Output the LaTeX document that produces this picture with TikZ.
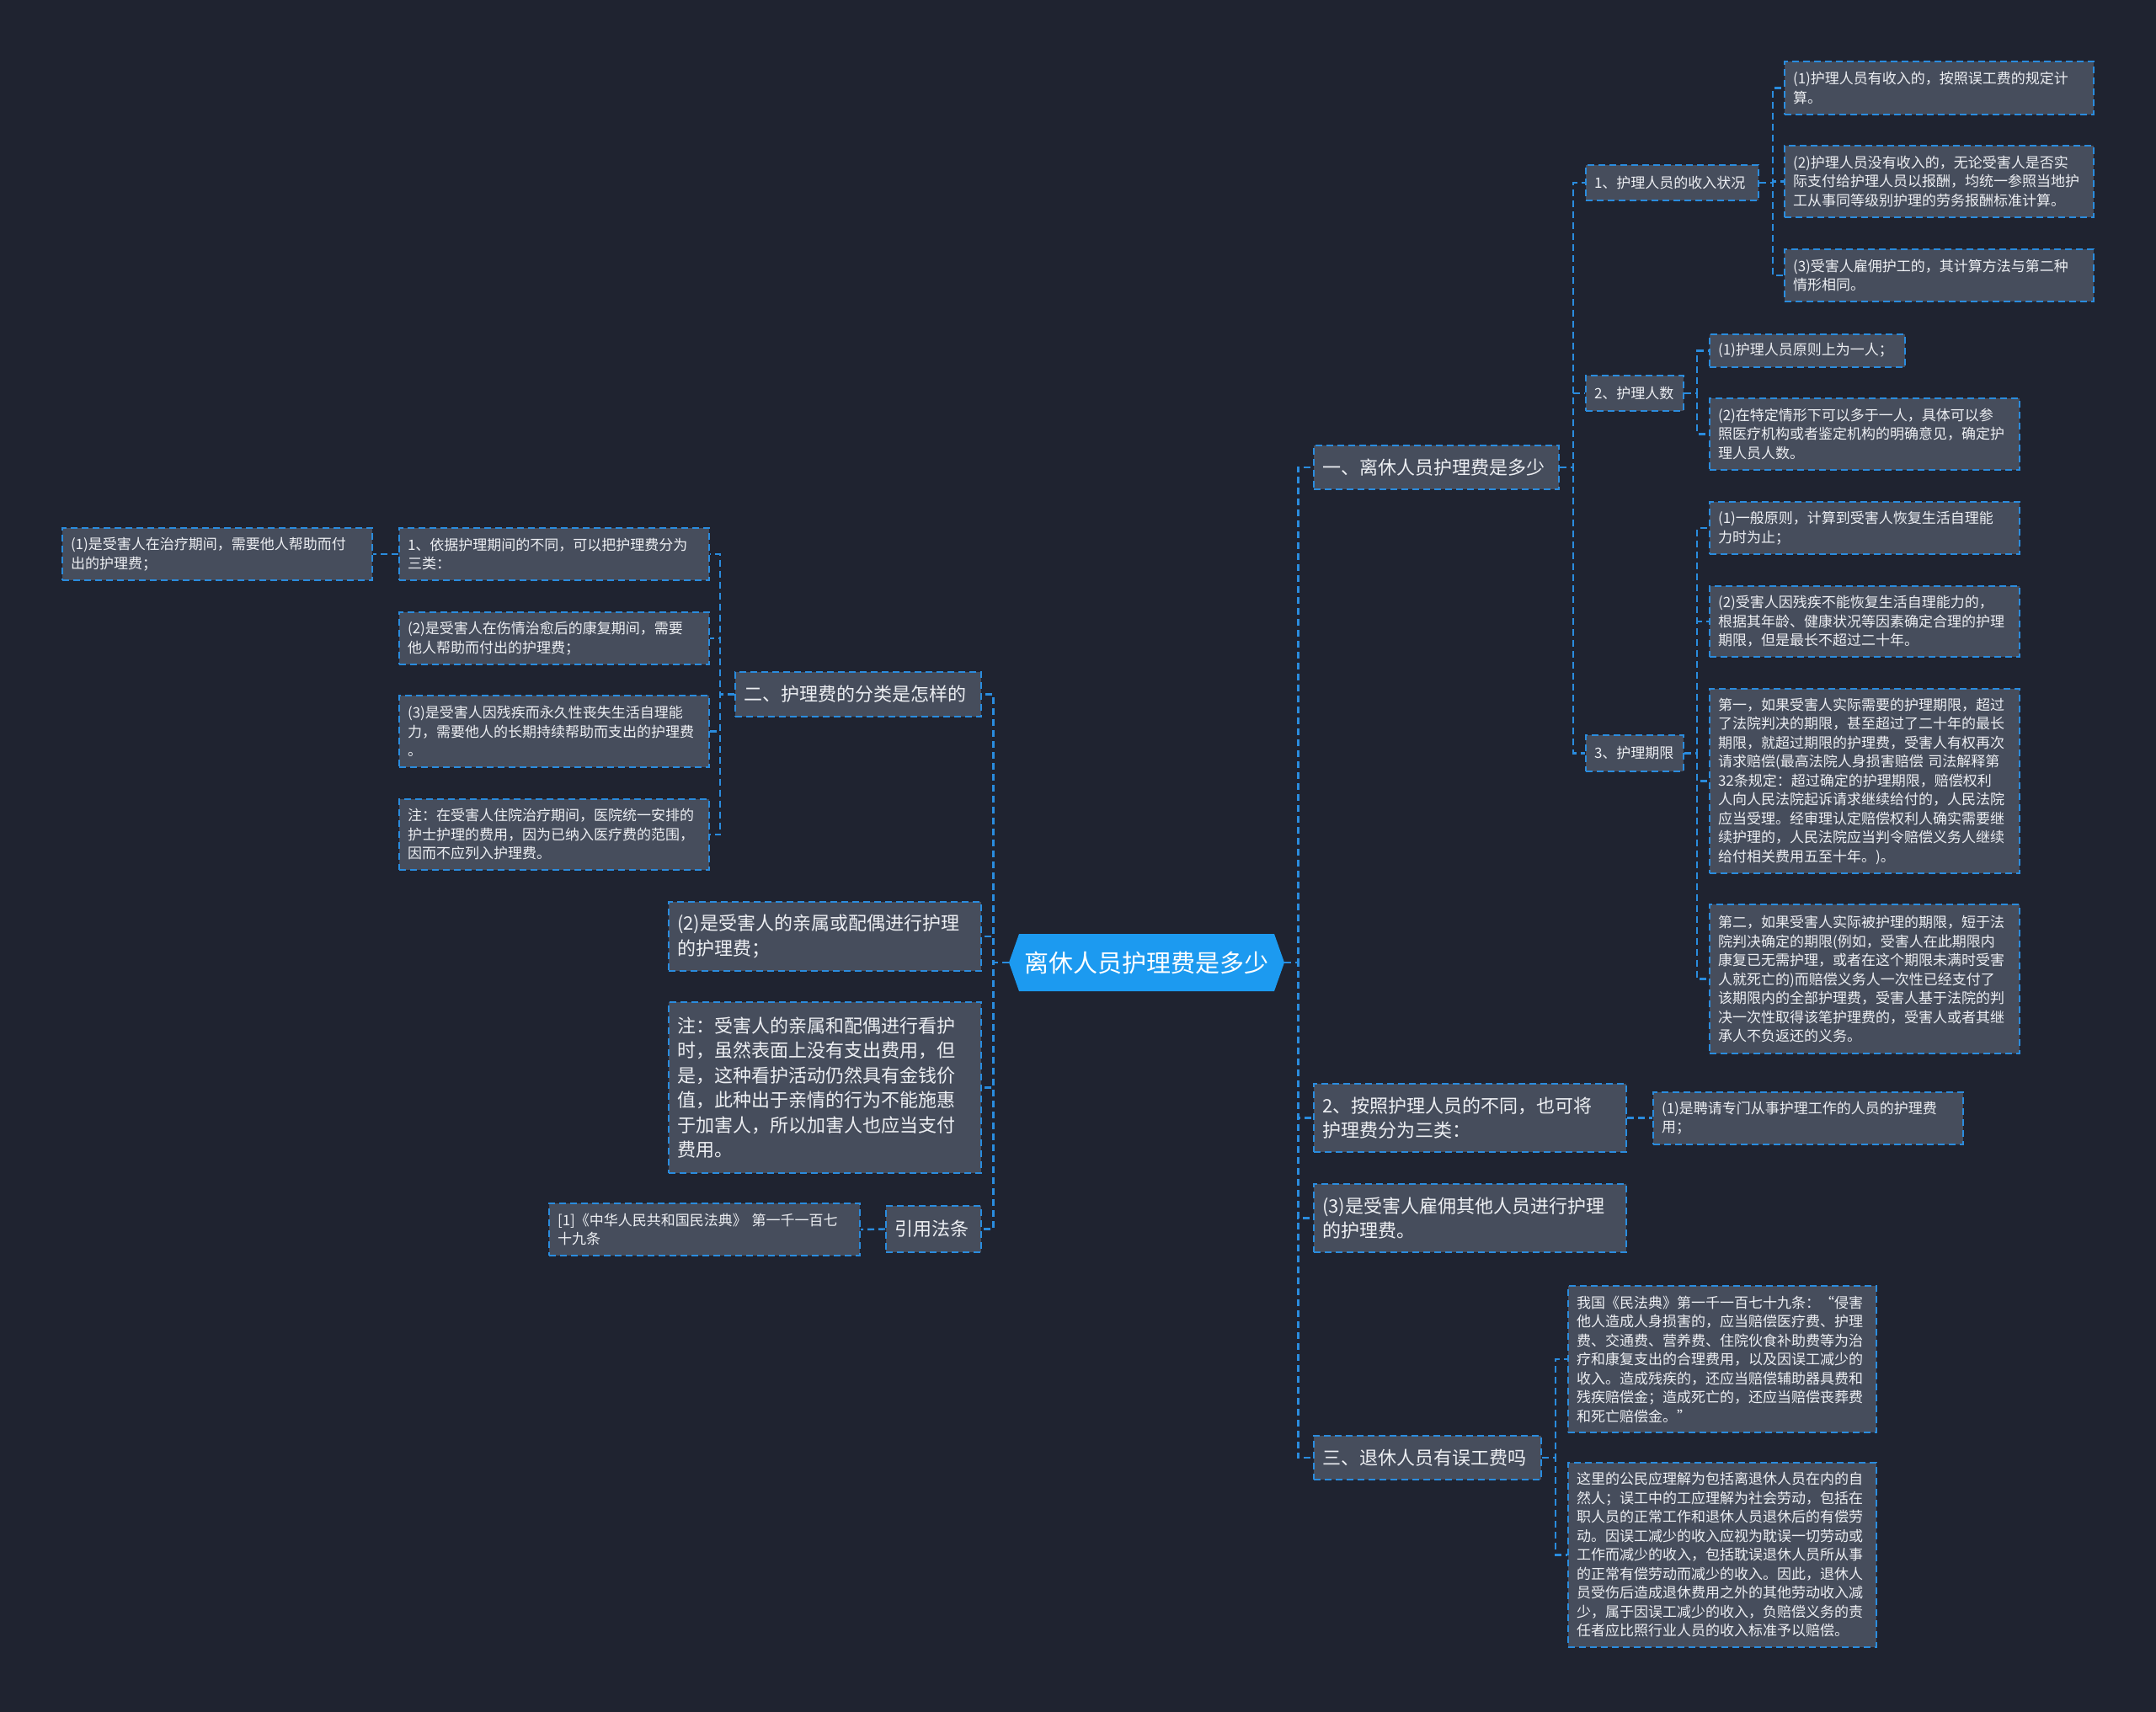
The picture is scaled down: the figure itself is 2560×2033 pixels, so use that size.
\documentclass[tikz,border=0pt]{standalone}
\usepackage{fontspec}
\setmainfont{Noto Sans CJK SC}
\definecolor{bgc}{RGB}{31,35,48}
\definecolor{nodef}{RGB}{70,77,92}
\definecolor{linec}{RGB}{42,140,222}
\definecolor{rootf}{RGB}{28,154,240}
\definecolor{txt}{RGB}{236,238,242}
\newcommand\smallfnt{\fontsize{8.5pt}{11.25pt}\selectfont}
\newcommand\bigfnt{\fontsize{11pt}{14.75pt}\selectfont}
\newcommand\rootfnt{\fontsize{14.5pt}{17pt}\selectfont}
\tikzset{
  boxbase/.style={draw=linec, line width=1pt, dash pattern=on 4pt off 2.5pt, fill=nodef, text=txt, anchor=west, align=left, inner xsep=5pt, inner ysep=0pt},
  sbox/.style={boxbase, font=\smallfnt},
  lbox/.style={boxbase, font=\bigfnt},
  conn/.style={draw=linec, line width=1.2pt, dash pattern=on 4pt off 2.5pt}
}
\begin{document}
\begin{tikzpicture}[x=0.5pt,y=-0.5pt]
\fill[bgc] (0,0) rectangle (2560,2033);
\useasboundingbox (0,0) rectangle (2560,2033);
% root
\fill[rootf] (1198,1143) -- (1210,1109) -- (1513,1109) -- (1525,1143) -- (1513,1177) -- (1210,1177) -- cycle;
\node[text=white, font=\rootfnt, minimum width=163.5pt, minimum height=34pt, inner sep=0pt] (root) at (1361.5,1143) {离休人员护理费是多少};
% right level 1
\node[lbox, text width=135.5pt, minimum height=26pt] (A) at (1559,555) {一、离休人员护理费是多少};
\node[lbox, text width=175.5pt, minimum height=40.5pt] (B) at (1559,1327.5) {2、按照护理人员的不同，也可将\\护理费分为三类：};
\node[lbox, text width=175.5pt, minimum height=40.5pt] (C) at (1559,1446.5) {(3)是受害人雇佣其他人员进行护理\\的护理费。};
\node[lbox, text width=125pt, minimum height=26pt] (D) at (1559,1731) {三、退休人员有误工费吗};
% left level 1
\node[lbox, text width=136pt, minimum height=26.5pt] (E) at (872,824.5) {二、护理费的分类是怎样的};
\node[lbox, text width=175.5pt, minimum height=41pt] (F) at (793,1112) {(2)是受害人的亲属或配偶进行护理\\的护理费；};
\node[lbox, text width=175.5pt, minimum height=101.5pt] (G) at (793,1291.5) {注：受害人的亲属和配偶进行看护\\时，虽然表面上没有支出费用，但\\是，这种看护活动仍然具有金钱价\\值，此种出于亲情的行为不能施惠\\于加害人，所以加害人也应当支付\\费用。};
\node[lbox, text width=46.5pt, minimum height=27.5pt] (H) at (1051,1459.5) {引用法条};
% A children
\node[sbox, text width=92.5pt, minimum height=21pt] (A1) at (1882,217) {1、护理人员的收入状况};
\node[sbox, text width=173.5pt, minimum height=31.5pt] (A1a) at (2118,104.5) {(1)护理人员有收入的，按照误工费的规定计\\算。};
\node[sbox, text width=173.5pt, minimum height=42.5pt] (A1b) at (2118,215.5) {(2)护理人员没有收入的，无论受害人是否实\\际支付给护理人员以报酬，均统一参照当地护\\工从事同等级别护理的劳务报酬标准计算。};
\node[sbox, text width=173.5pt, minimum height=31pt] (A1c) at (2118,327) {(3)受害人雇佣护工的，其计算方法与第二种\\情形相同。};
\node[sbox, text width=48pt, minimum height=21pt] (A2) at (1882,467) {2、护理人数};
\node[sbox, text width=106pt, minimum height=19.5pt] (A2a) at (2029,416.5) {(1)护理人员原则上为一人；};
\node[sbox, text width=174pt, minimum height=42.5pt] (A2b) at (2029,515.5) {(2)在特定情形下可以多于一人，具体可以参\\照医疗机构或者鉴定机构的明确意见，确定护\\理人员人数。};
\node[sbox, text width=48pt, minimum height=21.5pt] (A3) at (1882,894.5) {3、护理期限};
\node[sbox, text width=174pt, minimum height=31pt] (A3a) at (2029,627) {(1)一般原则，计算到受害人恢复生活自理能\\力时为止；};
\node[sbox, text width=174pt, minimum height=42pt] (A3b) at (2029,738) {(2)受害人因残疾不能恢复生活自理能力的，\\根据其年龄、健康状况等因素确定合理的护理\\期限，但是最长不超过二十年。};
\node[sbox, text width=174pt, minimum height=109.5pt] (A3c) at (2029,927.5) {第一，如果受害人实际需要的护理期限，超过\\了法院判决的期限，甚至超过了二十年的最长\\期限，就超过期限的护理费，受害人有权再次\\请求赔偿(最高法院人身损害赔偿 司法解释第\\32条规定：超过确定的护理期限，赔偿权利\\人向人民法院起诉请求继续给付的，人民法院\\应当受理。经审理认定赔偿权利人确实需要继\\续护理的，人民法院应当判令赔偿义务人继续\\给付相关费用五至十年。)。};
\node[sbox, text width=174pt, minimum height=88.5pt] (A3d) at (2029,1162.5) {第二，如果受害人实际被护理的期限，短于法\\院判决确定的期限(例如，受害人在此期限内\\康复已无需护理，或者在这个期限未满时受害\\人就死亡的)而赔偿义务人一次性已经支付了\\该期限内的全部护理费，受害人基于法院的判\\决一次性取得该笔护理费的，受害人或者其继\\承人不负返还的义务。};
% B, D children
\node[sbox, text width=174pt, minimum height=31pt] (B1) at (1962,1327.5) {(1)是聘请专门从事护理工作的人员的护理费\\用；};
\node[sbox, text width=173pt, minimum height=87pt] (D1) at (1861,1614) {我国《民法典》第一千一百七十九条：“侵害\\他人造成人身损害的，应当赔偿医疗费、护理\\费、交通费、营养费、住院伙食补助费等为治\\疗和康复支出的合理费用，以及因误工减少的\\收入。造成残疾的，还应当赔偿辅助器具费和\\残疾赔偿金；造成死亡的，还应当赔偿丧葬费\\和死亡赔偿金。”};
\node[sbox, text width=173pt, minimum height=109.5pt] (D2) at (1861,1846.5) {这里的公民应理解为包括离退休人员在内的自\\然人；误工中的工应理解为社会劳动，包括在\\职人员的正常工作和退休人员退休后的有偿劳\\动。因误工减少的收入应视为耽误一切劳动或\\工作而减少的收入，包括耽误退休人员所从事\\的正常有偿劳动而减少的收入。因此，退休人\\员受伤后造成退休费用之外的其他劳动收入减\\少，属于因误工减少的收入，负赔偿义务的责\\任者应比照行业人员的收入标准予以赔偿。};
% E children
\node[sbox, text width=174pt, minimum height=31pt] (E1) at (473,658) {1、依据护理期间的不同，可以把护理费分为\\三类：};
\node[sbox, text width=174pt, minimum height=31pt] (E1a) at (73,658) {(1)是受害人在治疗期间，需要他人帮助而付\\出的护理费；};
\node[sbox, text width=174pt, minimum height=31pt] (E2) at (473,758) {(2)是受害人在伤情治愈后的康复期间，需要\\他人帮助而付出的护理费；};
\node[sbox, text width=174pt, minimum height=42.5pt] (E3) at (473,868.5) {(3)是受害人因残疾而永久性丧失生活自理能\\力，需要他人的长期持续帮助而支出的护理费\\。};
\node[sbox, text width=174pt, minimum height=42pt] (E4) at (473,991) {注：在受害人住院治疗期间，医院统一安排的\\护士护理的费用，因为已纳入医疗费的范围，\\因而不应列入护理费。};
\node[sbox, text width=174.5pt, minimum height=31pt] (H1) at (651,1460) {[1]《中华人民共和国民法典》 第一千一百七\\十九条};
% connectors
\foreach \n in {A,B,C,D} \draw[conn] (root.east) -- ++(8pt,0) |- (\n.west);
\foreach \n in {E,F,G,H} \draw[conn] (root.west) -- ++(-9pt,0) |- (\n.east);
\foreach \n in {A1,A2,A3} \draw[conn] (A.east) -- ++(8pt,0) |- (\n.west);
\foreach \n in {A1a,A1b,A1c} \draw[conn] (A1.east) -- ++(8pt,0) |- (\n.west);
\foreach \n in {A2a,A2b} \draw[conn] (A2.east) -- ++(7.5pt,0) |- (\n.west);
\foreach \n in {A3a,A3b,A3c,A3d} \draw[conn] (A3.east) -- ++(7.5pt,0) |- (\n.west);
\draw[conn] (B.east) -- (B1.west);
\foreach \n in {D1,D2} \draw[conn] (D.east) -- ++(8pt,0) |- (\n.west);
\foreach \n in {E1,E2,E3,E4} \draw[conn] (E.west) -- ++(-8.5pt,0) |- (\n.east);
\draw[conn] (E1.west) -- (E1a.east);
\draw[conn] (H.west) -- (H1.east);
\end{tikzpicture}
\end{document}
